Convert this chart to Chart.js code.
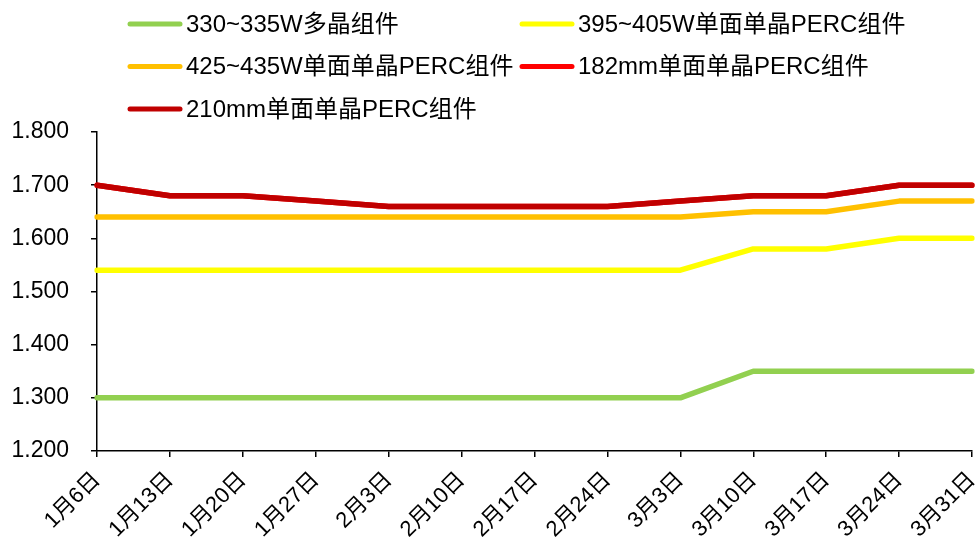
<!DOCTYPE html>
<html>
<head>
<meta charset="utf-8">
<script src="https://cdn.jsdelivr.net/npm/chart.js@4/dist/chart.umd.min.js"></script>
<style>
  html, body { margin: 0; padding: 0; background: #ffffff; }
  #wrap { width: 976px; height: 537px; position: relative; }
</style>
</head>
<body>
<div id="wrap"><canvas id="c" width="976" height="537"></canvas></div>
<script>
// Weekly module prices (元/W)
const categories = ['1月6日','1月13日','1月20日','1月27日','2月3日','2月10日','2月17日','2月24日','3月3日','3月10日','3月17日','3月24日','3月31日'];

const poly330 = [1.30,1.30,1.30,1.30,1.30,1.30,1.30,1.30,1.30,1.35,1.35,1.35,1.35];
const mono395 = [1.54,1.54,1.54,1.54,1.54,1.54,1.54,1.54,1.54,1.58,1.58,1.60,1.60];
const mono425 = [1.64,1.64,1.64,1.64,1.64,1.64,1.64,1.64,1.64,1.65,1.65,1.67,1.67];
const mono182 = [1.70,1.68,1.68,1.67,1.66,1.66,1.66,1.66,1.67,1.68,1.68,1.70,1.70];
const mono210 = [1.70,1.68,1.68,1.67,1.66,1.66,1.66,1.66,1.67,1.68,1.68,1.70,1.70];

const seriesNames = ['330~335W多晶组件','395~405W单面单晶PERC组件','425~435W单面单晶PERC组件','182mm单面单晶PERC组件','210mm单面单晶PERC组件'];
const seriesColors = ['#92D050','#FFFF00','#FFC000','#FF0000','#C00000'];
const seriesValues = [poly330, mono395, mono425, mono182, mono210];

const yTicks = [1.2, 1.3, 1.4, 1.5, 1.6, 1.7, 1.8];

const FONT = '"Liberation Sans", Arial, "Noto Sans CJK SC", sans-serif';

// Two-column legend above the plot
const gridLegend = {
  id: 'gridLegend',
  afterDraw(chart) {
    const ctx = chart.ctx;
    const cols = [130, 522];
    const rows = [24, 66.5, 109];
    ctx.save();
    ctx.font = '24px ' + FONT;
    ctx.textBaseline = 'middle';
    ctx.textAlign = 'left';
    chart.data.datasets.forEach((ds, i) => {
      const x = cols[i % 2];
      const y = rows[Math.floor(i / 2)];
      ctx.strokeStyle = ds.borderColor;
      ctx.lineWidth = 5;
      ctx.lineCap = 'round';
      ctx.beginPath();
      ctx.moveTo(x, y);
      ctx.lineTo(x + 50, y);
      ctx.stroke();
      ctx.fillStyle = '#000000';
      ctx.fillText(ds.label, x + 56, y + 1);
    });
    ctx.restore();
  }
};

// later series are painted over earlier ones
const datasets = seriesNames.map((name, i) => ({
  label: name,
  data: seriesValues[i],
  order: seriesNames.length - i,
  borderColor: seriesColors[i],
  backgroundColor: seriesColors[i],
  borderWidth: 5.5,
  borderCapStyle: 'round',
  borderJoinStyle: 'round',
  pointRadius: 0,
  pointHoverRadius: 0,
  tension: 0,
  fill: false
}));

new Chart(document.getElementById('c'), {
  type: 'line',
  data: { labels: categories, datasets },
  options: {
    responsive: false,
    animation: false,
    devicePixelRatio: 1,
    layout: { padding: { top: 132, right: 4, left: 0, bottom: 0 } },
    plugins: { legend: { display: false }, tooltip: { enabled: false } },
    scales: {
      x: {
        type: 'category',
        offset: false,
        grid: { display: true, drawOnChartArea: false, drawTicks: true, tickLength: 6, color: '#000000', lineWidth: 1.5 },
        border: { display: true, color: '#000000', width: 1.5 },
        ticks: {
          color: '#000000',
          font: { size: 22, family: FONT },
          maxRotation: 45,
          minRotation: 45,
          autoSkip: false,
          padding: 10
        },
        afterFit(scale) {
          scale.height = 86;
          scale.paddingLeft = 0;
          scale.paddingRight = 0;
        }
      },
      y: {
        min: 1.2,
        max: 1.8,
        afterBuildTicks(scale) { scale.ticks = yTicks.map(v => ({ value: v })); },
        grid: { display: true, drawOnChartArea: false, drawTicks: true, tickLength: 6, color: '#000000', lineWidth: 1.5 },
        border: { display: true, color: '#000000', width: 1.5 },
        ticks: {
          color: '#000000',
          font: { size: 23, family: FONT },
          padding: 22,
          callback: v => Number(v).toFixed(3)
        },
        afterFit(scale) { scale.width = 97; }
      }
    }
  },
  plugins: [gridLegend]
});
</script>
</body>
</html>
